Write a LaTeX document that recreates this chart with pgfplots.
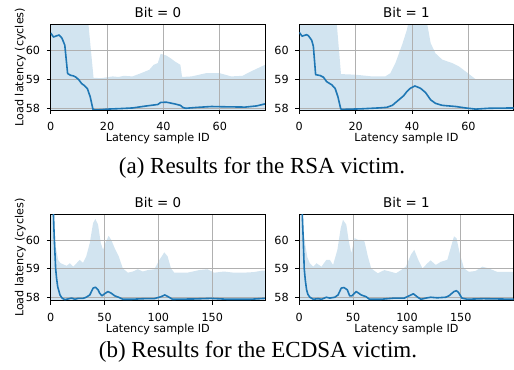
\documentclass[border=0pt]{standalone}
\usepackage{fontspec}
\setmainfont{DejaVu Sans}
\newfontfamily\capfont{Liberation Serif}
\usepackage{pgfplots}
\pgfplotsset{compat=1.18}
\definecolor{mplblue}{HTML}{1F77B4}
\definecolor{gridgray}{HTML}{B0B0B0}
\colorlet{bandcol}{mplblue!20!white}
\pgfplotsset{
  myax/.style={
    set layers, clip mode=individual,
    scale only axis, width=214.3pt, height=85.7pt, anchor=south west,
    axis line style={black, line width=0.9pt},
    grid=major, major grid style={gridgray, line width=0.9pt},
    tick align=outside, major tick length=3.9pt,
    tick style={black, line width=0.9pt},
    xtick pos=bottom, ytick pos=left,
    /pgf/number format/assume math mode=true,
    ticklabel style={font=\fontsize{11.2}{13}\selectfont},
    xticklabel style={anchor=north, inner sep=0pt, yshift=-8pt},
    yticklabel style={anchor=east, inner sep=0pt, xshift=-6.5pt},
    every axis title shift=0pt,
    title style={font=\fontsize{13.4}{15}\selectfont, at={(axis description cs:0.5,1)}, anchor=base, yshift=7pt},
    xlabel={Latency sample ID},
    xlabel style={font=\fontsize{11.2}{13}\selectfont, at={(axis description cs:0.5,0)}, anchor=base, yshift=-32pt},
    ylabel style={font=\fontsize{11.2}{13}\selectfont, at={(axis description cs:-0.1279,0.5)}, anchor=base},
    ytick={58,59,60},
  },
  topax/.style={myax, xmin=0, xmax=76, ymin=57.94, ymax=60.90, xtick={0,20,40,60}},
  botax/.style={myax, xmin=0, xmax=199, ymin=57.88, ymax=60.89, height=86pt, xtick={0,50,100,150}},
  band/.style={on layer=axis background, fill=bandcol, draw=none},
  meanl/.style={mplblue, line width=1.6pt, line join=round},
}
\begin{document}
\begin{tikzpicture}

% (a) RSA, Bit = 0
\begin{axis}[topax, at={(50.7pt,260pt)}, title={Bit = 0}, ylabel={Load latency (cycles)}]
\addplot[band] coordinates {(0,62) (13,61.3) (15.2,59.05) (18,59.04) (22,59.10) (24,59.08) (26,59.12) (29,59.10) (32,59.21) (35,59.33) (36.5,59.50) (38,59.56) (39,59.88) (41,59.82) (42.5,59.73) (44,59.62) (46,59.50) (46.6,59.08) (50,59.10) (55,59.21) (60,59.21) (64,59.10) (68,59.12) (71,59.27) (76,59.50) (76,56) (0,56)};
\addplot[meanl] coordinates {(0,60.60) (1,60.46) (2,60.50) (3,60.53) (4,60.42) (5,60.18) (6,59.20) (7,59.14) (8,59.12) (9,59.07) (10,58.98) (11,58.85) (12,58.78) (13,58.68) (14,58.40) (15,57.96) (16,57.94) (18,57.95) (20,57.97) (25,57.99) (29,58.01) (34,58.08) (38,58.13) (39,58.20) (41,58.21) (44,58.15) (46,58.10) (47,58.02) (48,58.00) (52,58.03) (57,58.06) (62,58.05) (69,58.04) (73,58.08) (76,58.15)};
\end{axis}

% (a) RSA, Bit = 1
\begin{axis}[topax, at={(299.3pt,260pt)}, title={Bit = 1}]
\addplot[band] coordinates {(0,62) (12.8,61.5) (14.8,59.18) (19.8,59.16) (25.8,59.10) (30.5,59.10) (32.3,59.21) (34.1,59.56) (36.5,60.2) (38.2,60.72) (39,61.1) (40,61.6) (43,61.6) (44.5,61.2) (45.4,60.9) (46.6,60.25) (48.3,59.9) (50.7,59.68) (54.3,59.56) (56.7,59.44) (59,59.27) (62.6,59.0) (76,59.0) (76,56) (0,56)};
\addplot[meanl] coordinates {(0,60.62) (1,60.49) (2.6,60.54) (3.2,60.51) (4.4,60.35) (5,60.14) (5.8,59.16) (7.4,59.13) (8.6,59.07) (9.7,58.92) (11.5,58.81) (12.7,58.69) (13.7,58.40) (14.7,57.98) (15.1,57.96) (22,57.98) (28,58.01) (31,58.03) (33,58.10) (35.3,58.29) (37,58.43) (38.2,58.58) (39.4,58.69) (41,58.77) (43,58.69) (44.8,58.54) (46.6,58.29) (48.3,58.17) (50.7,58.10) (55.5,58.06) (59,58.01) (62.6,57.97) (67.3,58.0) (76,58.01)};
\end{axis}

% (b) ECDSA, Bit = 0
\begin{axis}[botax, at={(50.7pt,69.3pt)}, title={Bit = 0}, ylabel={Load latency (cycles)}]
\addplot[band] coordinates {(0,68) (1.5,63) (2.5,61.0) (3.5,60.3) (5,59.7) (7,59.3) (9,59.2) (11.7,59.15) (14.8,59.10) (17.8,59.19) (21,59.07) (24,59.19) (27,59.31) (30,59.20) (33,59.43) (36.3,59.90) (39.4,60.6) (41.5,60.74) (44,60.54) (46.5,59.9) (48.6,59.66) (50.8,59.9) (53.8,60.15) (56.3,60.0) (59.4,59.72) (63,59.45) (67,59.01) (71.7,58.86) (76.3,58.9) (81,58.98) (85.5,58.9) (90,58.95) (96.3,58.98) (101,59.31) (105.5,59.57) (108.6,59.43) (111.7,59.01) (114.8,58.86) (127,58.86) (137.8,58.95) (145.5,58.98) (151.7,58.86) (161,58.9) (170,58.86) (179,58.86) (188.6,58.88) (196,58.93) (199,58.93) (199,56) (0,56)};
\addplot[meanl] coordinates {(0,64) (1,62.8) (2,61.6) (3,60.4) (3.4,60.0) (4.6,59.0) (5.5,58.65) (6.5,58.37) (8.6,58.08) (10.8,57.96) (13.2,57.92) (16,57.94) (19.4,57.97) (22.5,57.93) (25.5,57.96) (30,57.96) (33,58.0) (36.3,58.08) (39.4,58.32) (41.5,58.35) (44,58.26) (45.5,58.14) (47.7,58.05) (50,58.12) (53.2,58.20) (56.3,58.14) (59.4,58.05) (63,58.0) (67,57.93) (75,57.93) (87,57.95) (96,57.95) (102.5,58.02) (106,58.08) (110,58.0) (113,57.93) (133,57.94) (148.6,57.96) (164,57.93) (185.5,57.93) (199,57.96)};
\end{axis}

% (b) ECDSA, Bit = 1
\begin{axis}[botax, at={(299.3pt,69.3pt)}, title={Bit = 1}]
\addplot[band] coordinates {(0,68) (1.5,63) (2.8,61.0) (4,60.3) (5.8,59.78) (7.5,59.4) (9.8,59.19) (13,59.07) (16,59.19) (20.6,59.07) (25.2,59.31) (28.3,59.31) (31.4,59.13) (35.4,59.66) (38.5,60.42) (40.6,60.71) (43.7,60.54) (45.8,60.0) (48.3,59.54) (51.4,60.07) (54.5,60.01) (57.5,60.01) (60.6,59.95) (63.7,59.43) (66.8,59.01) (72.9,58.84) (79,58.95) (85.2,58.89) (89.8,58.84) (94.5,58.95) (99,59.07) (103.7,59.49) (106.8,59.66) (110.5,59.31) (114.5,59.01) (119,59.19) (122,59.29) (126.8,59.13) (131.4,59.24) (137.5,59.31) (141,59.78) (143.7,60.13) (146,60.07) (149,59.54) (153,59.01) (157.5,58.89) (163.7,58.92) (170,59.07) (176,59.01) (183.7,58.89) (199,58.89) (199,56) (0,56)};
\addplot[meanl] coordinates {(0,64) (1,63) (2,61.8) (2.8,60.9) (3.7,60.0) (4.6,59.0) (5.6,58.6) (6.8,58.26) (8,58.1) (9.8,58.0) (13,57.93) (17.5,57.95) (20.6,57.93) (25.2,58.0) (28.3,57.97) (33,58.0) (36,58.08) (39,58.32) (41.5,58.34) (44.6,58.26) (46.8,58.05) (48.9,58.05) (52.9,58.2) (57.5,58.08) (62,58.02) (65.2,57.93) (76,57.93) (88.3,57.97) (97.5,57.97) (102,58.05) (106,58.12) (110,58.0) (113,57.93) (117.5,57.97) (122,58.0) (128,57.98) (136,58.0) (139,58.05) (143.7,58.2) (146,58.23) (148,58.16) (151,57.97) (156,57.93) (171,57.95) (199,57.93)};
\end{axis}

\node[anchor=base, font=\capfont\fontsize{23}{27}\selectfont] at (262pt,196.7pt) {(a) Results for the RSA victim.};
\node[anchor=base, font=\capfont\fontsize{23}{27}\selectfont] at (258pt,12.3pt) {(b) Results for the ECDSA victim.};
\path (0,0) rectangle (514pt,370pt);
\end{tikzpicture}
\end{document}
